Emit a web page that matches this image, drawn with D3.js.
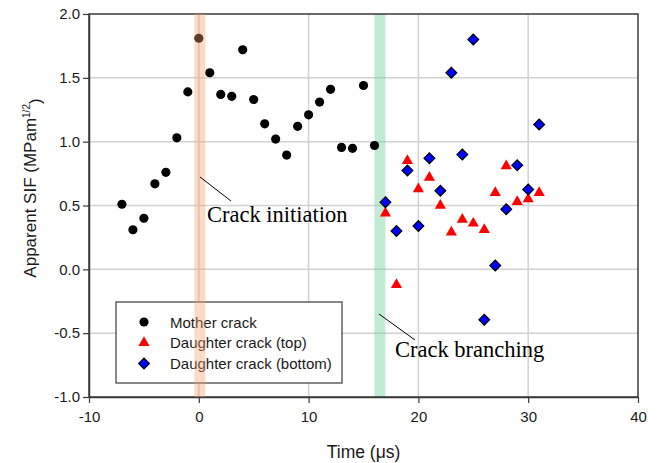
<!DOCTYPE html>
<html>
<head>
<meta charset="utf-8">
<script src="https://cdn.jsdelivr.net/npm/d3@7"></script>
<style>
  body { margin: 0; background: #fff; }
  svg { display: block; }
  text { font-family: "Liberation Sans", Arial, sans-serif; }
</style>
</head>
<body>
<svg id="chart" width="668" height="463"></svg>
<script>
// Apparent stress intensity factor versus time
const motherTime = [-7, -6, -5, -4, -3, -2, -1, 0, 1, 2, 3, 4, 5, 6, 7, 8, 9, 10, 11, 12, 13, 14, 15, 16];
const motherSIF  = [0.51, 0.31, 0.40, 0.67, 0.76, 1.03, 1.39, 1.81, 1.54, 1.37, 1.355, 1.72, 1.33, 1.14, 1.02, 0.895, 1.12, 1.21, 1.31, 1.41, 0.955, 0.948, 1.44, 0.97];

const topTime = [17, 18, 19, 20, 21, 22, 23, 24, 25, 26, 27, 28, 29, 30, 31];
const topSIF  = [0.44, -0.12, 0.85, 0.63, 0.72, 0.50, 0.29, 0.39, 0.36, 0.31, 0.60, 0.81, 0.53, 0.55, 0.60];

const bottomTime = [17, 18, 19, 20, 21, 22, 23, 24, 25, 26, 27, 28, 29, 30, 31];
const bottomSIF  = [0.525, 0.30, 0.775, 0.34, 0.87, 0.615, 1.54, 0.90, 1.80, -0.395, 0.03, 0.47, 0.815, 0.625, 1.135];

const xTicks = [-10, 0, 10, 20, 30, 40];
const yTicks = [-1.0, -0.5, 0.0, 0.5, 1.0, 1.5, 2.0];

const initiationBand = [-0.4, 0.6];
const branchingBand = [16, 17];

const legendLabels = ["Mother crack", "Daughter crack (top)", "Daughter crack (bottom)"];

const svg = d3.select("#chart");
const m = { left: 89, top: 14, right: 638, bottom: 397 };

const x = d3.scaleLinear().domain([-10, 40]).range([m.left, m.right]);
const y = d3.scaleLinear().domain([-1, 2]).range([m.bottom, m.top]);

// plain hyphen for negative numbers
const hy = f => v => f(v).replace("\u2212", "-");

// grid lines
const grid = svg.append("g").attr("stroke", "#d2d2d2").attr("stroke-width", 1.5);
xTicks.slice(1, -1).forEach(t => grid.append("line")
  .attr("x1", x(t)).attr("x2", x(t)).attr("y1", m.top).attr("y2", m.bottom));
yTicks.slice(1, -1).forEach(t => grid.append("line")
  .attr("x1", m.left).attr("x2", m.right).attr("y1", y(t)).attr("y2", y(t)));

// crack branching band (behind the markers)
svg.append("rect")
  .attr("x", x(branchingBand[0])).attr("width", x(branchingBand[1]) - x(branchingBand[0]))
  .attr("y", m.top).attr("height", m.bottom - m.top)
  .attr("fill", "rgb(120,210,165)").attr("fill-opacity", 0.45);

// frame
svg.append("rect")
  .attr("x", m.left).attr("y", m.top)
  .attr("width", m.right - m.left).attr("height", m.bottom - m.top)
  .attr("fill", "none").attr("stroke", "#3a3a3a").attr("stroke-width", 1.5);

// axes
const xAxis = svg.append("g")
  .attr("transform", `translate(0,${m.bottom})`)
  .call(d3.axisBottom(x).tickValues(xTicks).tickFormat(hy(d3.format("d"))).tickSize(6).tickSizeOuter(0));
const yAxis = svg.append("g")
  .attr("transform", `translate(${m.left},0)`)
  .call(d3.axisLeft(y).tickValues(yTicks).tickFormat(hy(d3.format(".1f"))).tickSize(6).tickSizeOuter(0));
[xAxis, yAxis].forEach(a => {
  a.select(".domain").attr("stroke", "#3a3a3a").attr("stroke-width", 1.5);
  a.selectAll(".tick line").attr("stroke", "#3a3a3a").attr("stroke-width", 1.2);
  a.selectAll(".tick text").attr("fill", "#1a1a1a").style("font-size", "15px")
    .style("font-family", "'Liberation Sans', Arial, sans-serif");
});
xAxis.selectAll(".tick text").attr("dy", "1.05em");
yAxis.selectAll(".tick text").attr("x", -9);

// axis titles
svg.append("text")
  .attr("x", (m.left + m.right) / 2).attr("y", 458)
  .attr("text-anchor", "middle").attr("fill", "#1a1a1a").style("font-size", "17.5px")
  .text("Time (\u03bcs)");

const yt = svg.append("text")
  .attr("transform", `translate(36,188) rotate(-90)`)
  .attr("text-anchor", "middle").attr("fill", "#1a1a1a").style("font-size", "17px");
yt.append("tspan").text("Apparent SIF (MPam");
yt.append("tspan").attr("dy", "-0.65em").style("font-size", "10px").text("1/2");
yt.append("tspan").attr("dy", "0.65em").text(")");

// marker shapes
const circleSym = d3.symbol().type(d3.symbolCircle).size(66);
const triSym = d3.symbol().type(d3.symbolTriangle).size(54);
const diaSym = d3.symbol().type(d3.symbolSquare).size(58);

function drawSeries(xs, ys, sym, fill, stroke, rot) {
  svg.append("g").selectAll("path")
    .data(xs.map((t, i) => [t, ys[i]]))
    .join("path")
    .attr("d", sym)
    .attr("transform", d => `translate(${x(d[0])},${y(d[1])}) rotate(${rot})`)
    .attr("fill", fill)
    .attr("stroke", stroke)
    .attr("stroke-width", stroke === "none" ? 0 : 1.2);
}
drawSeries(motherTime, motherSIF, circleSym, "#000", "none", 0);
drawSeries(topTime, topSIF, triSym, "#ff0000", "none", 0);
drawSeries(bottomTime, bottomSIF, diaSym, "#0000ff", "#000", 45);

// legend
const lg = svg.append("g");
lg.append("rect").attr("x", 116).attr("y", 302).attr("width", 226).attr("height", 81)
  .attr("fill", "#fff").attr("stroke", "#3a3a3a").attr("stroke-width", 1.2);
const legendSyms = [
  { sym: circleSym, fill: "#000", stroke: "none", rot: 0 },
  { sym: triSym, fill: "#ff0000", stroke: "none", rot: 0 },
  { sym: diaSym, fill: "#0000ff", stroke: "#000", rot: 45 }
];
legendLabels.forEach((lab, i) => {
  const yy = 322 + i * 20.8;
  const s = legendSyms[i];
  lg.append("path").attr("d", s.sym)
    .attr("transform", `translate(144,${yy}) rotate(${s.rot})`)
    .attr("fill", s.fill).attr("stroke", s.stroke).attr("stroke-width", s.stroke === "none" ? 0 : 1.2);
  lg.append("text").attr("x", 170).attr("y", yy + 5.5)
    .attr("fill", "#1a1a1a").style("font-size", "15px").text(lab);
});

// crack initiation band (drawn over everything, translucent)
svg.append("rect")
  .attr("x", x(initiationBand[0])).attr("width", x(initiationBand[1]) - x(initiationBand[0]))
  .attr("y", m.top).attr("height", m.bottom - m.top)
  .attr("fill", "rgb(242,160,110)").attr("fill-opacity", 0.38);

// annotations
const serif = "'Liberation Serif', 'Times New Roman', serif";
svg.append("line").attr("x1", 200).attr("y1", 177).attr("x2", 231).attr("y2", 201)
  .attr("stroke", "#000").attr("stroke-width", 1);
svg.append("text").attr("x", 207).attr("y", 222)
  .style("font-family", serif).style("font-size", "22.5px").attr("fill", "#000")
  .text("Crack initiation");

svg.append("line").attr("x1", 379).attr("y1", 314).attr("x2", 415).attr("y2", 340)
  .attr("stroke", "#000").attr("stroke-width", 1);
svg.append("text").attr("x", 395).attr("y", 357)
  .style("font-family", serif).style("font-size", "22.5px").attr("fill", "#000")
  .text("Crack branching");
</script>
</body>
</html>
